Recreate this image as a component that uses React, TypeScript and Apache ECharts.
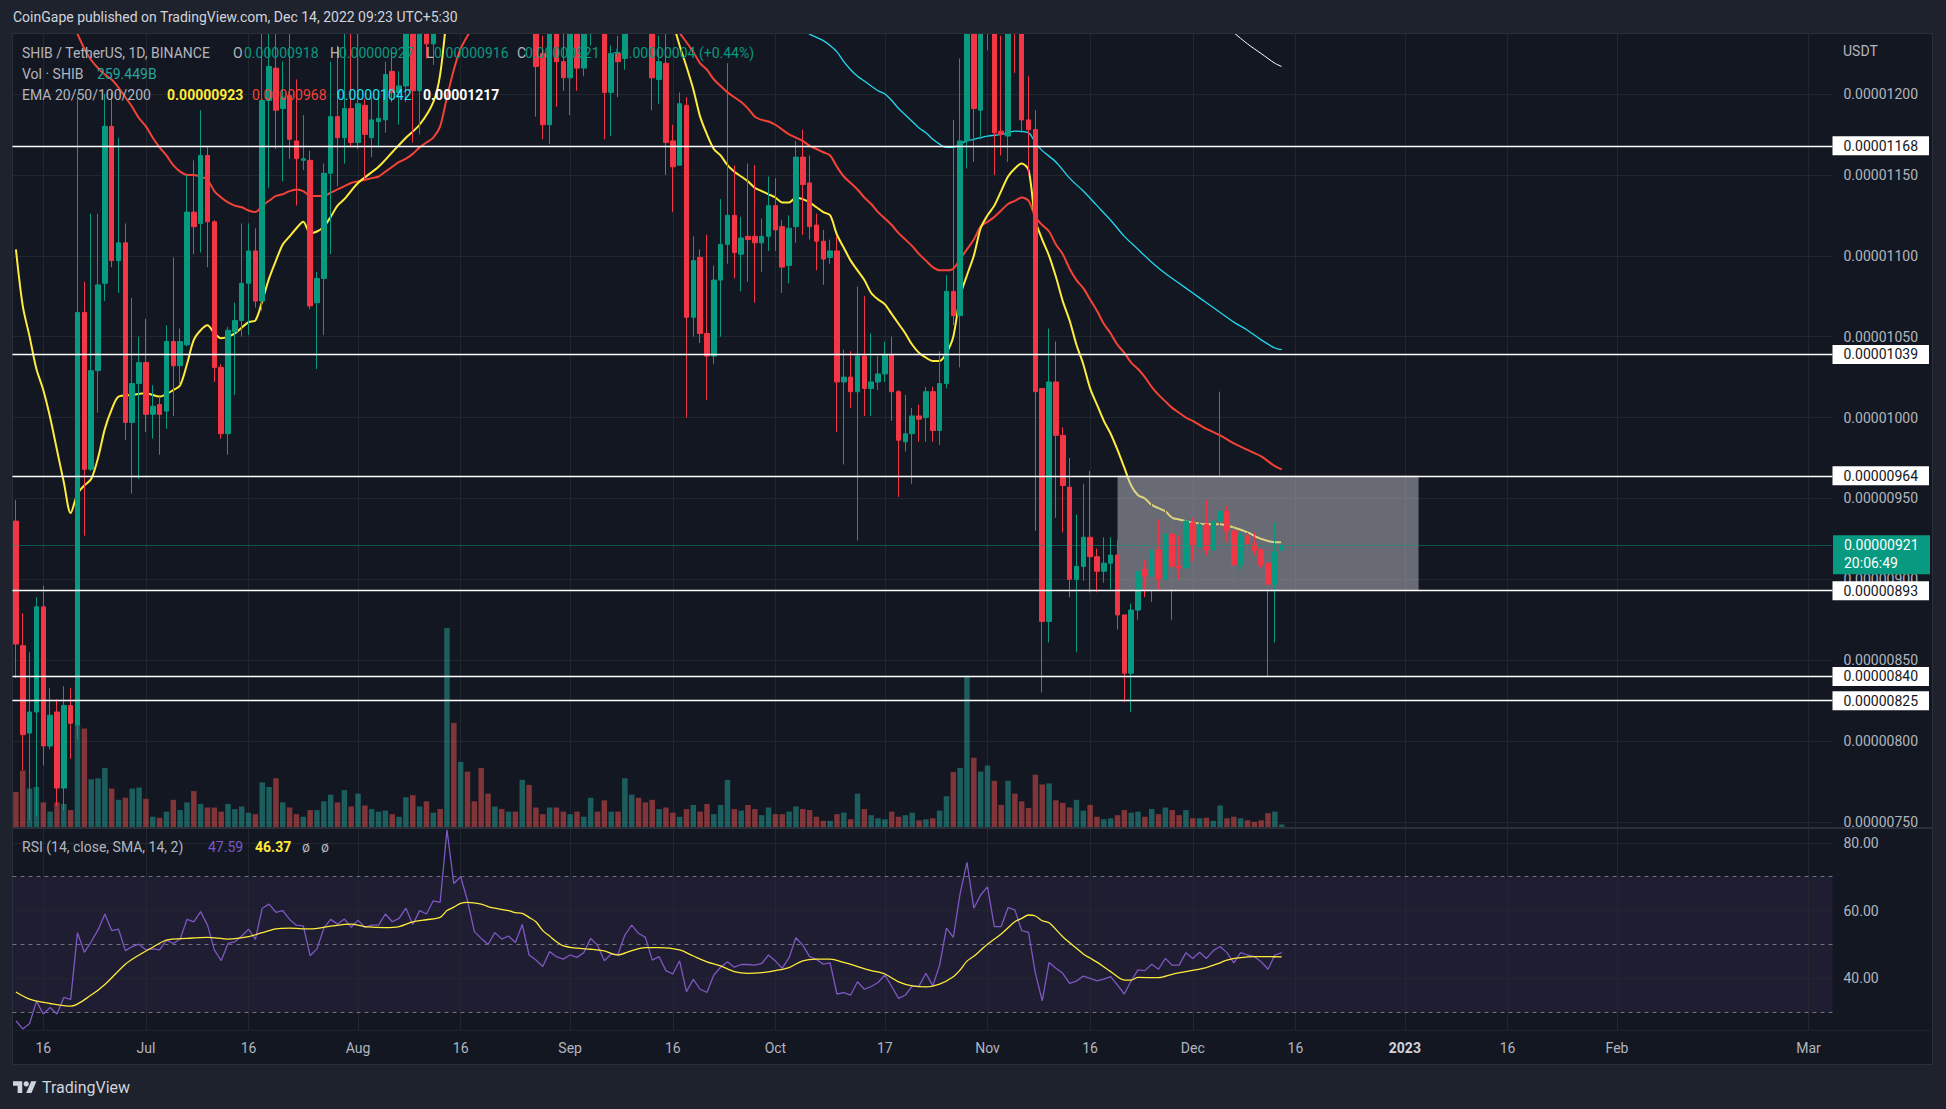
import React, { useEffect, useRef } from 'react';
import * as echarts from 'echarts';

// Prices are stored in units of 1e-8 USDT (921 = 0.00000921)
const START = [2022, 5, 12];
const CATEGORY_COUNT = 266; // 2022-06-12 .. 2023-03-04 (right empty space)

const timeLabels: [string, string][] = [
  ['2022-06-16', '16'], ['2022-07-01', 'Jul'], ['2022-07-16', '16'], ['2022-08-01', 'Aug'],
  ['2022-08-16', '16'], ['2022-09-01', 'Sep'], ['2022-09-16', '16'], ['2022-10-01', 'Oct'],
  ['2022-10-17', '17'], ['2022-11-01', 'Nov'], ['2022-11-16', '16'], ['2022-12-01', 'Dec'],
  ['2022-12-16', '16'], ['2023-01-01', '2023'], ['2023-01-16', '16'], ['2023-02-01', 'Feb'],
  ['2023-03-01', 'Mar'],
];

const priceTicks = [750, 800, 850, 900, 950, 1000, 1050, 1100, 1150, 1200];
const rsiTicks = [40, 60, 80];
const rsiBands = [30, 50, 70];
const levels = [1168, 1039, 964, 893, 840, 825];
const zoneStart = '2022-11-20';
const zoneEnd = '2023-01-03';
const zoneTop = 964;
const zoneBottom = 893;
const countdown = '20:06:49';
const volumeLegend = '259.449B';

// [open, high, low, close] per day from 2022-06-12 to 2022-12-14
const ohlc: number[][] = [
  [936, 949, 839, 860], [859, 879, 782, 804], [805, 855, 751, 818], [818, 889, 754, 883],
  [883, 896, 785, 797], [797, 833, 795, 816], [818, 826, 760, 771], [771, 834, 757, 822],
  [822, 833, 789, 811], [810, 1200, 801, 1065], [1065, 1084, 927, 968], [968, 1126, 967, 1029],
  [1029, 1126, 1003, 1082], [1083, 1200, 1072, 1180], [1180, 1201, 1093, 1097], [1097, 1173, 1077, 1108],
  [1108, 1120, 986, 997], [997, 1074, 953, 1021], [1021, 1050, 962, 1034], [1034, 1061, 991, 1002],
  [1002, 1020, 987, 1007], [1008, 1013, 977, 1002], [1004, 1057, 993, 1047], [1047, 1099, 1001, 1032],
  [1032, 1055, 1020, 1047], [1045, 1150, 1044, 1127], [1127, 1159, 1101, 1118], [1120, 1190, 1102, 1162],
  [1162, 1167, 1093, 1121], [1121, 1122, 1022, 1031], [1031, 1033, 987, 990], [990, 1056, 977, 1054],
  [1053, 1071, 1014, 1060], [1060, 1120, 1050, 1083], [1083, 1120, 1051, 1103], [1103, 1117, 1068, 1072],
  [1072, 1245, 1066, 1196], [1196, 1255, 1142, 1217], [1216, 1250, 1166, 1190], [1191, 1220, 1146, 1198],
  [1199, 1250, 1160, 1172], [1171, 1209, 1131, 1160], [1159, 1187, 1153, 1160], [1159, 1165, 1067, 1069],
  [1071, 1090, 1030, 1086], [1086, 1157, 1051, 1151], [1151, 1220, 1101, 1186], [1186, 1230, 1143, 1173],
  [1173, 1245, 1157, 1191], [1191, 1245, 1167, 1170], [1170, 1245, 1166, 1194], [1193, 1197, 1146, 1175],
  [1173, 1198, 1161, 1184], [1183, 1198, 1167, 1185], [1184, 1220, 1176, 1212], [1214, 1227, 1195, 1201],
  [1201, 1214, 1181, 1205], [1205, 1262, 1195, 1250], [1250, 1258, 1170, 1202], [1202, 1268, 1175, 1255],
  [1262, 1280, 1222, 1231], [1231, 1300, 1218, 1290], [1290, 1320, 1255, 1270], [1270, 1760, 1262, 1620],
  [1620, 1700, 1450, 1500], [1500, 1580, 1430, 1540], [1540, 1560, 1420, 1440], [1440, 1470, 1390, 1400],
  [1400, 1410, 1270, 1300], [1300, 1310, 1250, 1275], [1275, 1320, 1258, 1305], [1305, 1312, 1262, 1290],
  [1290, 1315, 1265, 1300], [1300, 1308, 1265, 1285], [1285, 1330, 1275, 1310], [1310, 1318, 1238, 1250],
  [1250, 1262, 1186, 1217], [1225, 1236, 1172, 1181], [1181, 1252, 1169, 1245], [1245, 1255, 1192, 1220],
  [1220, 1238, 1202, 1210], [1210, 1245, 1187, 1240], [1238, 1242, 1202, 1216], [1216, 1250, 1211, 1240],
  [1240, 1275, 1230, 1265], [1265, 1280, 1242, 1250], [1250, 1255, 1172, 1201], [1201, 1230, 1174, 1225],
  [1225, 1236, 1198, 1220], [1222, 1300, 1215, 1290], [1290, 1345, 1280, 1335], [1335, 1350, 1300, 1320],
  [1320, 1330, 1275, 1295], [1295, 1300, 1190, 1210], [1209, 1236, 1194, 1220], [1219, 1240, 1150, 1170],
  [1171, 1181, 1127, 1155], [1156, 1201, 1156, 1194], [1193, 1198, 1000, 1062], [1062, 1112, 1050, 1097],
  [1099, 1104, 1046, 1052], [1052, 1113, 1011, 1038], [1038, 1094, 1033, 1085], [1085, 1135, 1050, 1107],
  [1107, 1219, 1095, 1125], [1125, 1156, 1086, 1102], [1101, 1124, 1078, 1111], [1112, 1157, 1084, 1110],
  [1112, 1156, 1071, 1108], [1108, 1123, 1090, 1112], [1112, 1149, 1103, 1131], [1131, 1148, 1103, 1116],
  [1118, 1122, 1077, 1093], [1094, 1125, 1083, 1117], [1118, 1171, 1108, 1161], [1161, 1178, 1113, 1144],
  [1145, 1162, 1110, 1118], [1119, 1126, 1091, 1109], [1109, 1116, 1082, 1098], [1099, 1110, 1095, 1103],
  [1103, 1112, 991, 1022], [1022, 1042, 971, 1025], [1025, 1041, 1006, 1016], [1016, 1081, 924, 1038],
  [1038, 1075, 1001, 1018], [1018, 1052, 1001, 1022], [1022, 1038, 1017, 1027], [1027, 1047, 1022, 1039],
  [1039, 1050, 998, 1016], [1016, 1017, 951, 986], [985, 1014, 979, 990], [990, 1006, 959, 1001],
  [1001, 1008, 985, 999], [1000, 1019, 985, 1016], [1016, 1019, 985, 992], [992, 1041, 983, 1021],
  [1021, 1088, 1018, 1078], [1078, 1184, 1057, 1063], [1063, 1222, 1031, 1171], [1171, 1340, 1154, 1290],
  [1290, 1300, 1158, 1191], [1190, 1270, 1172, 1250], [1250, 1280, 1227, 1265], [1265, 1275, 1150, 1176],
  [1177, 1236, 1162, 1175], [1174, 1280, 1158, 1260], [1260, 1275, 1213, 1250], [1250, 1258, 1176, 1184],
  [1184, 1211, 1150, 1178], [1178, 1190, 930, 1016], [1018, 1018, 830, 874], [874, 1055, 861, 1022],
  [1022, 1047, 938, 989], [989, 994, 929, 958], [957, 975, 889, 900], [900, 940, 855, 908],
  [908, 959, 899, 926], [926, 967, 892, 914], [914, 919, 892, 905], [905, 926, 898, 910],
  [910, 926, 894, 915], [915, 924, 869, 878], [878, 878, 824, 842], [842, 885, 818, 881],
  [881, 913, 875, 905], [906, 912, 889, 902], [902, 949, 886, 918], [918, 937, 893, 900],
  [900, 964, 897, 928], [928, 938, 875, 908], [908, 927, 900, 907], [907, 938, 903, 936],
  [935, 938, 911, 921], [920, 938, 908, 934], [934, 949, 915, 918], [918, 938, 918, 936],
  [936, 1016, 926, 942], [942, 945, 923, 930], [930, 932, 894, 909], [909, 929, 906, 927],
  [927, 929, 915, 922], [922, 929, 915, 918], [918, 919, 907, 909], [910, 911, 840, 897],
  [897, 935, 861, 917], [918, 927, 916, 921],
];

// relative daily volume
const volumes = [
  68, 110, 75, 78, 48, 30, 48, 45, 33, 200, 192, 93, 95, 115, 75, 53, 57, 75, 77, 55,
  20, 18, 30, 53, 33, 48, 70, 45, 38, 38, 30, 45, 35, 40, 28, 25, 87, 78, 95, 48,
  38, 25, 20, 33, 33, 50, 63, 48, 72, 40, 65, 42, 35, 30, 32, 25, 20, 58, 62, 40,
  50, 28, 35, 388, 203, 127, 108, 50, 115, 65, 40, 35, 30, 30, 92, 82, 38, 25, 38, 38,
  30, 25, 30, 20, 57, 30, 52, 30, 30, 95, 63, 57, 48, 53, 35, 38, 28, 20, 35, 43,
  30, 45, 25, 43, 92, 35, 32, 43, 35, 23, 38, 25, 25, 30, 40, 35, 33, 20, 12, 12,
  25, 28, 15, 65, 35, 23, 17, 15, 30, 20, 23, 28, 13, 15, 17, 32, 60, 107, 115, 295,
  135, 108, 120, 90, 43, 90, 65, 50, 37, 102, 83, 85, 52, 47, 38, 53, 32, 43, 20, 15,
  17, 23, 33, 28, 30, 20, 35, 25, 38, 33, 23, 33, 17, 17, 18, 12, 42, 17, 20, 17,
  13, 10, 13, 27, 30, 5,
];

// EMA readings [dayIndex, value]
const ema20: number[][] = [
  [0, 1104], [1, 1069], [2, 1050], [3, 1030], [4, 1017], [5, 1000], [6, 980], [7, 960], [8, 941],
  [9, 953], [10, 958], [11, 962], [12, 975], [13, 993], [14, 1005], [15, 1013], [17, 1014], [19, 1015],
  [21, 1013], [23, 1017], [24, 1020], [25, 1033], [26, 1048], [27, 1054], [28, 1057], [29, 1052],
  [30, 1049], [31, 1050], [32, 1052], [34, 1059], [35, 1060], [36, 1072], [37, 1086], [38, 1097],
  [39, 1107], [40, 1112], [41, 1117], [42, 1121], [43, 1114], [44, 1115], [45, 1118], [46, 1124],
  [47, 1131], [48, 1135], [50, 1145], [53, 1155], [55, 1164], [57, 1173], [59, 1181], [61, 1195],
  [62, 1212], [63, 1250], [64, 1290], [66, 1330], [70, 1345], [75, 1335], [80, 1310], [85, 1300],
  [90, 1300], [93, 1285], [95, 1262], [96, 1245], [97, 1230], [98, 1217], [99, 1203], [100, 1186],
  [101, 1175], [102, 1166], [103, 1162], [104, 1156], [105, 1152], [106, 1149], [107, 1146], [108, 1142],
  [109, 1140], [110, 1138], [111, 1136], [112, 1133], [113, 1133], [114, 1136], [115, 1135], [116, 1133],
  [117, 1130], [118, 1127], [119, 1125], [120, 1113], [121, 1105], [122, 1097], [123, 1091], [124, 1085],
  [125, 1077], [126, 1073], [127, 1070], [128, 1064], [129, 1058], [130, 1052], [131, 1045], [132, 1040],
  [133, 1037], [134, 1035], [135, 1035], [136, 1040], [137, 1050], [138, 1075], [139, 1088], [140, 1100],
  [141, 1117], [142, 1125], [143, 1131], [144, 1140], [145, 1149], [146, 1154], [147, 1157], [148, 1153],
  [149, 1122], [150, 1110], [151, 1100], [152, 1087], [153, 1072], [154, 1060], [155, 1045], [156, 1033],
  [157, 1018], [158, 1008], [159, 998], [160, 990], [161, 980], [162, 969], [163, 958], [164, 952],
  [165, 950], [166, 946], [167, 944], [168, 942], [169, 938], [170, 937], [171, 936], [172, 935],
  [174, 934], [176, 934], [178, 932], [180, 929], [182, 925], [184, 923], [185, 923],
];
const ema50: number[][] = [
  [0, 1320], [3, 1290], [6, 1262], [8, 1245], [9, 1237], [10, 1228], [11, 1221], [12, 1216], [13, 1212],
  [14, 1209], [15, 1204], [16, 1198], [17, 1192], [18, 1185], [19, 1180], [20, 1173], [21, 1167],
  [22, 1162], [23, 1156], [24, 1152], [25, 1150], [26, 1150], [27, 1149], [28, 1147], [29, 1140],
  [30, 1136], [31, 1133], [32, 1131], [33, 1130], [34, 1128], [35, 1127], [36, 1131], [37, 1134],
  [38, 1137], [39, 1138], [40, 1140], [41, 1141], [42, 1140], [43, 1137], [45, 1137], [46, 1139],
  [47, 1141], [48, 1143], [49, 1145], [50, 1146], [51, 1147], [52, 1148], [53, 1149], [54, 1152],
  [55, 1155], [56, 1158], [57, 1160], [58, 1163], [59, 1167], [60, 1170], [61, 1173], [62, 1180],
  [63, 1198], [64, 1215], [65, 1228], [66, 1236], [67, 1243], [70, 1262], [75, 1275], [80, 1278],
  [85, 1275], [90, 1272], [94, 1262], [96, 1248], [97, 1238], [98, 1232], [99, 1226], [100, 1219],
  [101, 1215], [102, 1209], [103, 1205], [104, 1201], [105, 1198], [106, 1195], [107, 1191], [108, 1186],
  [109, 1184], [110, 1183], [111, 1181], [112, 1178], [113, 1175], [114, 1173], [115, 1171], [116, 1168],
  [117, 1166], [118, 1164], [119, 1162], [120, 1155], [121, 1149], [122, 1145], [123, 1141], [124, 1136],
  [125, 1132], [126, 1127], [127, 1123], [128, 1119], [129, 1114], [130, 1110], [131, 1106], [132, 1101],
  [133, 1097], [134, 1093], [135, 1091], [136, 1091], [137, 1092], [138, 1098], [139, 1104], [140, 1110],
  [141, 1118], [142, 1121], [143, 1124], [144, 1128], [145, 1132], [146, 1134], [147, 1136], [148, 1134],
  [149, 1124], [150, 1119], [151, 1115], [152, 1107], [153, 1101], [154, 1092], [155, 1085], [156, 1080],
  [157, 1073], [158, 1066], [159, 1058], [160, 1052], [161, 1045], [162, 1040], [163, 1034], [164, 1030],
  [165, 1025], [166, 1019], [167, 1014], [168, 1010], [169, 1006], [170, 1003], [171, 1000], [172, 998],
  [174, 993], [176, 989], [178, 984], [180, 980], [182, 976], [184, 970], [185, 968],
];
const ema100: number[][] = [
  [100, 1290], [108, 1262], [112, 1250], [115, 1240], [116, 1237], [117, 1235], [118, 1233], [119, 1230],
  [120, 1226], [121, 1220], [122, 1215], [123, 1211], [124, 1208], [125, 1205], [126, 1202], [127, 1200],
  [128, 1196], [129, 1191], [130, 1187], [131, 1183], [132, 1179], [133, 1176], [134, 1172], [135, 1169],
  [136, 1167], [137, 1167], [138, 1169], [139, 1171], [140, 1172], [142, 1174], [144, 1175], [146, 1177],
  [148, 1176], [149, 1170], [150, 1165], [152, 1158], [154, 1148], [156, 1140], [158, 1131], [160, 1122],
  [162, 1112], [164, 1104], [166, 1096], [168, 1089], [170, 1083], [172, 1077], [174, 1071], [176, 1065],
  [178, 1059], [180, 1054], [182, 1048], [184, 1043], [185, 1042],
];
const ema200: number[][] = [
  [170, 1262], [175, 1250], [178, 1238], [180, 1231], [182, 1225], [184, 1219], [185, 1217],
];

// RSI(14) daily readings
const rsi = [
  27.5, 25.1, 26.7, 33.3, 29.5, 31.4, 29.5, 34.4, 33.8, 53.5, 47.7, 50.8, 54.3, 59, 54.1, 54.5,
  48.2, 49.4, 50.1, 48.4, 48.7, 48.4, 51.3, 50.3, 51.6, 57.4, 56.7, 59.7, 55.7, 48.4, 45.2, 50.3,
  50.8, 52.5, 54.5, 51.5, 60.7, 61.9, 59.5, 60, 57.4, 55.7, 55.5, 46.7, 48.7, 54.8, 57.4, 56,
  57.5, 55.1, 57.2, 55, 55.7, 55.7, 59, 56.7, 57.7, 60.7, 55.9, 60, 59, 62.9, 62.4, 83.8,
  68, 70, 62.9, 53.8, 51.8, 50, 53.5, 51.6, 52.5, 50.6, 55.9, 46.9, 45.4, 43.5, 47.9, 46.4,
  45.7, 46.9, 46.2, 47.6, 51.8, 49.8, 45.2, 47.2, 47.1, 52.8, 55.7, 53.3, 52.1, 45.4, 46.4, 42.3,
  41.3, 45.2, 36.1, 39.7, 36.8, 35.9, 41, 43.3, 44.9, 43.3, 44.1, 44.1, 43.9, 44.4, 46.9, 45.1,
  43, 46.1, 52, 49.8, 46.4, 45.6, 44.2, 44.6, 35.4, 35.8, 35.1, 39, 36.8, 37.6, 38.8, 41,
  37.6, 34.1, 35.1, 37.7, 37.8, 41.5, 37.8, 43.9, 54.8, 52.1, 65.1, 74.2, 60.7, 64.6, 67, 55.3,
  55.3, 60.9, 60.2, 54.1, 53.6, 41.5, 33.4, 44.7, 43, 41.5, 38.5, 39.2, 40.7, 40, 39.3, 39.8,
  40.5, 38, 35.4, 39.3, 42.5, 42.3, 44.2, 42.7, 45.9, 43.9, 43.9, 47.6, 45.9, 47.7, 45.9, 48.2,
  49.4, 47.6, 44.6, 47.6, 46.9, 46.4, 44.9, 42.7, 46.9, 47.59,
];
// RSI SMA(14) readings [dayIndex, value]
const rsiSma: number[][] = [
  [0, 36], [2, 33.9], [5, 32.6], [8, 31.8], [11, 35.1], [13, 38.2], [16, 44.2], [18, 46.9], [20, 49.2],
  [22, 51.3], [25, 51.8], [28, 52.1], [31, 51.6], [34, 52.3], [36, 53.5], [38, 54.6], [40, 54.8],
  [43, 54.6], [46, 55.4], [49, 56], [51, 55.3], [54, 55], [56, 55.3], [58, 56.7], [60, 57.3], [62, 58],
  [63, 60], [64, 61], [65, 62.1], [66, 62.4], [68, 61.9], [69, 61.2], [70, 60.7], [72, 60], [73, 59.4],
  [74, 59.2], [75, 58], [76, 56.7], [77, 54.1], [78, 52.5], [79, 50.8], [80, 49.6], [82, 48.9],
  [84, 48.6], [86, 48.1], [88, 46.9], [90, 48.2], [92, 49.1], [94, 49.1], [97, 48.4], [99, 46.6],
  [101, 44.9], [103, 43.7], [105, 42], [107, 41.5], [109, 41.7], [111, 42.3], [113, 43.2], [115, 45.2],
  [117, 45.7], [119, 45.7], [121, 44.7], [123, 43.5], [125, 42.3], [127, 41.3], [129, 39], [131, 37.8],
  [133, 37.5], [135, 38.3], [137, 40.5], [138, 42.5], [139, 45.1], [140, 46.5], [141, 48.3], [142, 50.1],
  [144, 53.1], [146, 56.7], [147, 57.7], [148, 58.7], [149, 58.4], [150, 57], [151, 56.4], [153, 52.3],
  [155, 48.9], [156, 47.2], [157, 46], [158, 44.8], [160, 42], [162, 39.5], [163, 39.5], [164, 40.3],
  [167, 40.2], [169, 41.2], [171, 42], [174, 43.2], [176, 44.6], [177, 45.4], [179, 46.1], [181, 46.4],
  [183, 46.4], [185, 46.37],
];

const C_UP = '#089981';
const C_DOWN = '#f23645';
const C_TEXT = '#b2b5be';
const C_GRID = '#22262f';
const C_PAGE = '#1e222d';
const FONT = 'Roboto';

const fmtPrice = (v: number) => (v / 1e8).toFixed(8);

const dates: string[] = [];
for (let k = 0; k < CATEGORY_COUNT; k++) {
  dates.push(new Date(Date.UTC(START[0], START[1], START[2] + k)).toISOString().slice(0, 10));
}
const labelMap = new Map<number, string>(timeLabels.map(([d, t]) => [dates.indexOf(d), t]));

echarts.graphic.registerShape(
  'tvlogo',
  echarts.graphic.extendPath('M14 22H7V11H0V4h14v18zM28 22h-8l7.5-18h8L28 22z', {}) as any
);

function buildGraphic(yLast: number) {
  const last = ohlc[ohlc.length - 1];
  const prev = ohlc[ohlc.length - 2];
  const diff = last[3] - prev[3];
  const pct = (diff / prev[3]) * 100;
  const t = (x: number, y: number, text: string, fill: string, extra: any = {}) => ({
    type: 'text',
    x,
    y,
    silent: true,
    z: 20,
    style: { text, fill, fontSize: 14, fontFamily: FONT, verticalAlign: 'middle', align: 'left', ...extra },
  });
  return [
    {
      type: 'rect', z: -10, silent: true,
      shape: { x: 12.5, y: 33.5, width: 1920, height: 1031 },
      style: { fill: '#131722', stroke: '#2a2e39', lineWidth: 1 },
    },
    // page band above the chart frame (hides candles running past the pane top)
    { type: 'rect', z: 15, silent: true, shape: { x: 0, y: 0, width: 1946, height: 33 }, style: { fill: C_PAGE } },
    { type: 'line', z: 16, silent: true, shape: { x1: 12.5, y1: 33.5, x2: 1932.5, y2: 33.5 }, style: { stroke: '#2a2e39', lineWidth: 1 } },
    { type: 'line', z: 20, silent: true, shape: { x1: 12.5, y1: 828, x2: 1932.5, y2: 828 }, style: { stroke: '#2a2e39', lineWidth: 2 } },
    { type: 'line', z: 20, silent: true, shape: { x1: 12.5, y1: 1030.5, x2: 1932.5, y2: 1030.5 }, style: { stroke: '#1f232e', lineWidth: 1 } },
    t(13, 17, 'CoinGape published on TradingView.com, Dec 14, 2022 09:23 UTC+5:30', '#d1d4dc'),
    t(22, 53, 'SHIB / TetherUS, 1D, BINANCE', C_TEXT),
    t(233, 53, 'O', C_TEXT), t(244, 53, fmtPrice(last[0]), C_UP),
    t(330, 53, 'H', C_TEXT), t(339, 53, fmtPrice(last[1]), C_UP),
    t(426, 53, 'L', C_TEXT), t(434, 53, fmtPrice(last[2]), C_UP),
    t(517, 53, 'C', C_TEXT), t(525, 53, fmtPrice(last[3]), C_UP),
    t(613, 53, `${diff >= 0 ? '+' : '-'}${fmtPrice(Math.abs(diff))} (${diff >= 0 ? '+' : '-'}${Math.abs(pct).toFixed(2)}%)`, C_UP),
    t(22, 74, 'Vol · SHIB', C_TEXT), t(97, 74, volumeLegend, '#26a69a'),
    t(22, 95, 'EMA 20/50/100/200', C_TEXT),
    t(167, 95, fmtPrice(ema20[ema20.length - 1][1]), '#ffeb3b', { fontWeight: 'bold' }),
    t(252, 95, fmtPrice(ema50[ema50.length - 1][1]), '#f44336'),
    t(337, 95, fmtPrice(ema100[ema100.length - 1][1]), '#1fe0f5'),
    t(423, 95, fmtPrice(ema200[ema200.length - 1][1]), '#ffffff', { fontWeight: 'bold' }),
    t(22, 847, 'RSI (14, close, SMA, 14, 2)', C_TEXT),
    t(208, 847, rsi[rsi.length - 1].toFixed(2), '#7e57c2'),
    t(255, 847, rsiSma[rsiSma.length - 1][1].toFixed(2), '#ffeb3b', { fontWeight: 'bold' }),
    t(302, 847, 'ø', C_TEXT), t(321, 847, 'ø', C_TEXT),
    t(1843, 51, 'USDT', C_TEXT),
    {
      type: 'rect', z: 21, silent: true,
      shape: { x: 1833, y: yLast - 10, width: 97, height: 39 },
      style: { fill: C_UP },
    },
    { ...t(1844, yLast, fmtPrice(last[3]), '#ffffff'), z: 22 },
    { ...t(1844, yLast + 18, countdown, '#ffffff'), z: 22 },
    {
      type: 'tvlogo', x: 13, y: 1078.6, scaleX: 0.66, scaleY: 0.66, z: 20, silent: true,
      style: { fill: '#d1d4dc' },
    },
    { type: 'circle', z: 20, silent: true, shape: { cx: 13 + 20 * 0.66, cy: 1078.6 + 8 * 0.66, r: 4 * 0.66 }, style: { fill: '#d1d4dc' } },
    t(42, 1087, 'TradingView', '#d1d4dc', { fontSize: 16 }),
  ];
}

export default function App() {
  const ref = useRef<HTMLDivElement>(null);
  useEffect(() => {
    document.body.style.margin = '0';
    document.body.style.background = C_PAGE;
    const chart = echarts.init(ref.current!, undefined, { renderer: 'svg' });

    const vLines = timeLabels.map(([d]) => ({ xAxis: d }));
    const gridLine = { color: C_GRID, width: 1, type: 'solid' };
    const lineSeries = (data: number[][], color: string, width: number, z: number) => ({
      type: 'line', xAxisIndex: 0, yAxisIndex: 0, data, showSymbol: false, symbol: 'none',
      smooth: 0.3, silent: true, z, clip: true,
      lineStyle: { color, width }, emphasis: { disabled: true },
    });
    const gridCommon = { left: 12.5, right: 113.5, containLabel: false, outerBoundsMode: 'none' };

    const option: any = {
      animation: false,
      backgroundColor: C_PAGE,
      textStyle: { fontFamily: FONT },
      grid: [
        { ...gridCommon, top: 33.5, height: 794.5 },
        { ...gridCommon, top: 628, height: 199 },
        { ...gridCommon, top: 828, height: 202 },
      ],
      xAxis: [0, 1, 2].map((gi) => ({
        type: 'category', gridIndex: gi, data: dates, boundaryGap: true,
        axisLine: { show: false }, axisTick: { show: false }, splitLine: { show: false },
        axisPointer: { show: false },
        axisLabel: gi === 2
          ? {
              show: true, color: C_TEXT, fontSize: 14, margin: 11, fontFamily: FONT,
              interval: (idx: number) => labelMap.has(idx),
              formatter: (_v: string, idx: number) => {
                const s = labelMap.get(idx) || '';
                return s === '2023' ? `{b|${s}}` : s;
              },
              rich: { b: { fontWeight: 'bold', color: '#d1d4dc', fontSize: 14, fontFamily: FONT } },
            }
          : { show: false },
      })),
      yAxis: [
        {
          type: 'value', gridIndex: 0, position: 'right', min: 746.3, max: 1237.4, scale: true,
          axisLine: { show: false }, axisTick: { show: false, customValues: priceTicks }, splitLine: { show: false },
          axisLabel: { customValues: priceTicks, formatter: (v: number) => fmtPrice(v), color: C_TEXT, fontSize: 14, margin: 11, fontFamily: FONT },
        },
        { type: 'value', gridIndex: 1, min: 0, max: 388, show: false, splitLine: { show: false } },
        {
          type: 'value', gridIndex: 2, position: 'right', min: 24.78, max: 84.36, scale: true,
          axisLine: { show: false }, axisTick: { show: false, customValues: rsiTicks }, splitLine: { show: false },
          axisLabel: { customValues: rsiTicks, formatter: (v: number) => v.toFixed(2), color: C_TEXT, fontSize: 14, margin: 11, fontFamily: FONT },
        },
      ],
      series: [
        {
          type: 'line', name: 'priceGrid', xAxisIndex: 0, yAxisIndex: 0, data: [], z: 0, silent: true,
          markLine: {
            z: 0, silent: true, symbol: ['none', 'none'], label: { show: false }, lineStyle: gridLine,
            emphasis: { disabled: true }, data: [...vLines, ...priceTicks.map((v) => ({ yAxis: v }))],
          },
        },
        {
          type: 'bar', name: 'Volume', xAxisIndex: 1, yAxisIndex: 1, barWidth: '80%', z: 1, silent: true,
          data: volumes.map((v, i) => ({
            value: v,
            itemStyle: { color: ohlc[i][3] >= ohlc[i][0] ? 'rgba(38,166,154,0.5)' : 'rgba(239,83,80,0.5)' },
          })),
        },
        lineSeries(ema200, '#ffffff', 1, 2),
        lineSeries(ema100, '#22d8f0', 1.3, 2),
        lineSeries(ema50, '#f44336', 2, 2),
        lineSeries(ema20, '#ffeb3b', 2, 2),
        {
          type: 'line', name: 'zone', xAxisIndex: 0, yAxisIndex: 0, data: [], z: 3, silent: true,
          markArea: {
            z: 3, silent: true, itemStyle: { color: 'rgba(189,190,197,0.5)' },
            data: [[{ xAxis: zoneStart, yAxis: zoneTop }, { xAxis: zoneEnd, yAxis: zoneBottom }]],
          },
        },
        {
          type: 'candlestick', name: 'SHIB', xAxisIndex: 0, yAxisIndex: 0, z: 4, barWidth: '74%', clip: true,
          silent: true,
          data: ohlc.map(([o, h, l, c]) => [o, c, l, h]),
          itemStyle: {
            color: C_UP, color0: C_DOWN, borderColor: C_UP, borderColor0: C_DOWN,
            borderColorDoji: C_UP, borderWidth: 1,
          },
        },
        {
          type: 'line', name: 'levels', xAxisIndex: 0, yAxisIndex: 0, data: [], z: 5, silent: true,
          markLine: {
            z: 5, silent: true, symbol: ['none', 'none'], emphasis: { disabled: true },
            lineStyle: { color: '#ffffff', width: 1.3, type: 'solid' },
            label: {
              show: true, position: 'end', distance: 0, backgroundColor: '#ffffff', color: '#131722',
              fontSize: 14, fontFamily: FONT, padding: [3, 11, 2, 11],
            },
            data: [
              { yAxis: ohlc[ohlc.length - 1][3], lineStyle: { color: C_UP, type: 'dotted', width: 1 }, label: { show: false } },
              ...levels.map((v) => ({ yAxis: v, label: { formatter: fmtPrice(v) } })),
            ],
          },
        },
        {
          type: 'line', name: 'rsiGrid', xAxisIndex: 2, yAxisIndex: 2, data: [], z: 0, silent: true,
          markArea: {
            z: 0, silent: true, itemStyle: { color: 'rgba(126,87,194,0.1)' },
            data: [[{ yAxis: rsiBands[0] }, { yAxis: rsiBands[2] }]],
          },
          markLine: {
            z: 0, silent: true, symbol: ['none', 'none'], label: { show: false }, lineStyle: gridLine,
            emphasis: { disabled: true }, data: [...vLines, ...rsiTicks.map((v) => ({ yAxis: v }))],
          },
        },
        {
          type: 'line', name: 'rsiBands', xAxisIndex: 2, yAxisIndex: 2, data: [], z: 1, silent: true,
          markLine: {
            z: 1, silent: true, symbol: ['none', 'none'], label: { show: false }, emphasis: { disabled: true },
            lineStyle: { color: 'rgba(149,152,161,0.7)', width: 1, type: [4, 4] },
            data: rsiBands.map((v) => ({ yAxis: v })),
          },
        },
        {
          type: 'line', name: 'RSI', xAxisIndex: 2, yAxisIndex: 2, data: rsi, showSymbol: false, symbol: 'none',
          silent: true, z: 3, lineStyle: { color: '#7e57c2', width: 1.3 }, emphasis: { disabled: true },
        },
        {
          type: 'line', name: 'RSI SMA', xAxisIndex: 2, yAxisIndex: 2, data: rsiSma, showSymbol: false, symbol: 'none',
          smooth: 0.3, silent: true, z: 4, lineStyle: { color: '#ffeb3b', width: 1.3 }, emphasis: { disabled: true },
        },
      ],
    };

    chart.setOption(option);
    const yLast = chart.convertToPixel({ yAxisIndex: 0 }, ohlc[ohlc.length - 1][3]) as number;
    chart.setOption({ graphic: buildGraphic(yLast) });

    return () => chart.dispose();
  }, []);
  return <div ref={ref} style={{ width: 1946, height: 1109 }} />;
}
